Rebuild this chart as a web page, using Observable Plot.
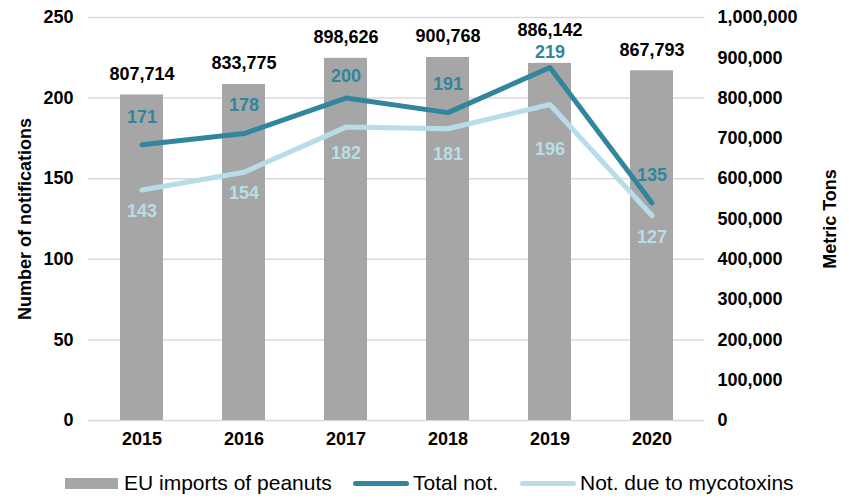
<!DOCTYPE html>
<html>
<head>
<meta charset="utf-8">
<script src="https://cdn.jsdelivr.net/npm/d3@7"></script>
<script src="https://cdn.jsdelivr.net/npm/@observablehq/plot@0.6"></script>
<style>
  html, body { margin: 0; padding: 0; background: #fff; }
  #chart { width: 849px; font-family: "Liberation Sans", Arial, sans-serif; }
  .legend { position: relative; height: 36px; font-size: 21px; color: #000; }
  .legend .item { position: absolute; top: 0; height: 36px; display: flex; align-items: center; white-space: nowrap; }
  .legend .sw { display: inline-block; }
</style>
</head>
<body>
<div id="chart"></div>
<script>
const years = ["2015", "2016", "2017", "2018", "2019", "2020"];
const imports = [807714, 833775, 898626, 900768, 886142, 867793];
const totalNot = [171, 178, 200, 191, 219, 135];
const mycoNot = [143, 154, 182, 181, 196, 127];
const leftTicks = [0, 50, 100, 150, 200, 250];
const rightTicks = [0, 100000, 200000, 300000, 400000, 500000, 600000, 700000, 800000, 900000, 1000000];
const seriesNames = ["EU imports of peanuts", "Total not.", "Not. due to mycotoxins"];
const leftTitle = "Number of notifications";
const rightTitle = "Metric Tons";

const ratio = 1000000 / 250;
const rows = years.map((year, i) => ({year, imports: imports[i], total: totalNot[i], myco: mycoNot[i]}));

const C_BAR = "#a6a6a6", C_TOTAL = "#31859c", C_MYCO = "#b7dee8";
const fmt = d3.format(",");

// label placement nudges (pixels), like Excel's manual label positions
const barDy = {"2019": -33};
const totalDy = {"2017": -22, "2019": -15};
const mycoDy = {"2017": 26, "2018": 26, "2019": 45};
function groupedText(yFn, textFn, dyMap, defDy, color) {
  const groups = d3.group(rows, d => dyMap[d.year] ?? defDy);
  return Array.from(groups, ([dy, data]) =>
    Plot.text(data, {x: "year", y: yFn, text: textFn, dy, fill: color}));
}

const plot = Plot.plot({
  width: 849,
  height: 465,
  marginTop: 17,
  marginBottom: 45,
  marginLeft: 88,
  marginRight: 145,
  style: {fontFamily: '"Liberation Sans", Arial, sans-serif', fontSize: "18px", fontWeight: "bold", color: "#000", background: "#fff"},
  x: {domain: years, paddingInner: 0.58, paddingOuter: 0.29, align: 0.5},
  y: {domain: [0, 250]},
  marks: [
    Plot.gridY(leftTicks, {stroke: "#d9d9d9", strokeOpacity: 1, strokeWidth: 1.5}),
    Plot.barY(rows, {x: "year", y: d => d.imports / ratio, fill: C_BAR}),
    Plot.line(rows, {x: "year", y: "total", stroke: C_TOTAL, strokeWidth: 5, strokeLinecap: "round", strokeLinejoin: "round"}),
    Plot.line(rows, {x: "year", y: "myco", stroke: C_MYCO, strokeWidth: 5, strokeLinecap: "round", strokeLinejoin: "round"}),
    Plot.axisY(leftTicks, {anchor: "left", tickSize: 0, tickPadding: 15, label: null}),
    Plot.axisY(rightTicks.map(v => v / ratio), {anchor: "right", tickSize: 0, tickPadding: 13, label: null, tickFormat: v => fmt(Math.round(v * ratio))}),
    Plot.axisX({tickSize: 0, tickPadding: 12, label: null}),
    ...groupedText(d => d.imports / ratio, d => fmt(d.imports), barDy, -21, "#000"),
    ...groupedText("total", d => String(d.total), totalDy, -28, C_TOTAL),
    ...groupedText("myco", d => String(d.myco), mycoDy, 21, C_MYCO),
    Plot.text([leftTitle], {frameAnchor: "left", dx: -63, rotate: -90, textAnchor: "middle", text: d => d, fill: "#000"}),
    Plot.text([rightTitle], {frameAnchor: "right", dx: 126, rotate: -90, textAnchor: "middle", text: d => d, fill: "#000"})
  ]
});

const chart = document.getElementById("chart");
chart.appendChild(plot);

const legend = document.createElement("div");
legend.className = "legend";
legend.innerHTML = `
  <div class="item" style="left:65px"><span class="sw" style="width:53px;height:11px;background:${C_BAR};margin-right:6px"></span>${seriesNames[0]}</div>
  <div class="item" style="left:353px"><span class="sw" style="width:56px;height:5px;border-radius:3px;background:${C_TOTAL};margin-right:4px"></span>${seriesNames[1]}</div>
  <div class="item" style="left:520px"><span class="sw" style="width:56px;height:5px;border-radius:3px;background:${C_MYCO};margin-right:4px"></span>${seriesNames[2]}</div>`;
chart.appendChild(legend);
</script>
</body>
</html>
